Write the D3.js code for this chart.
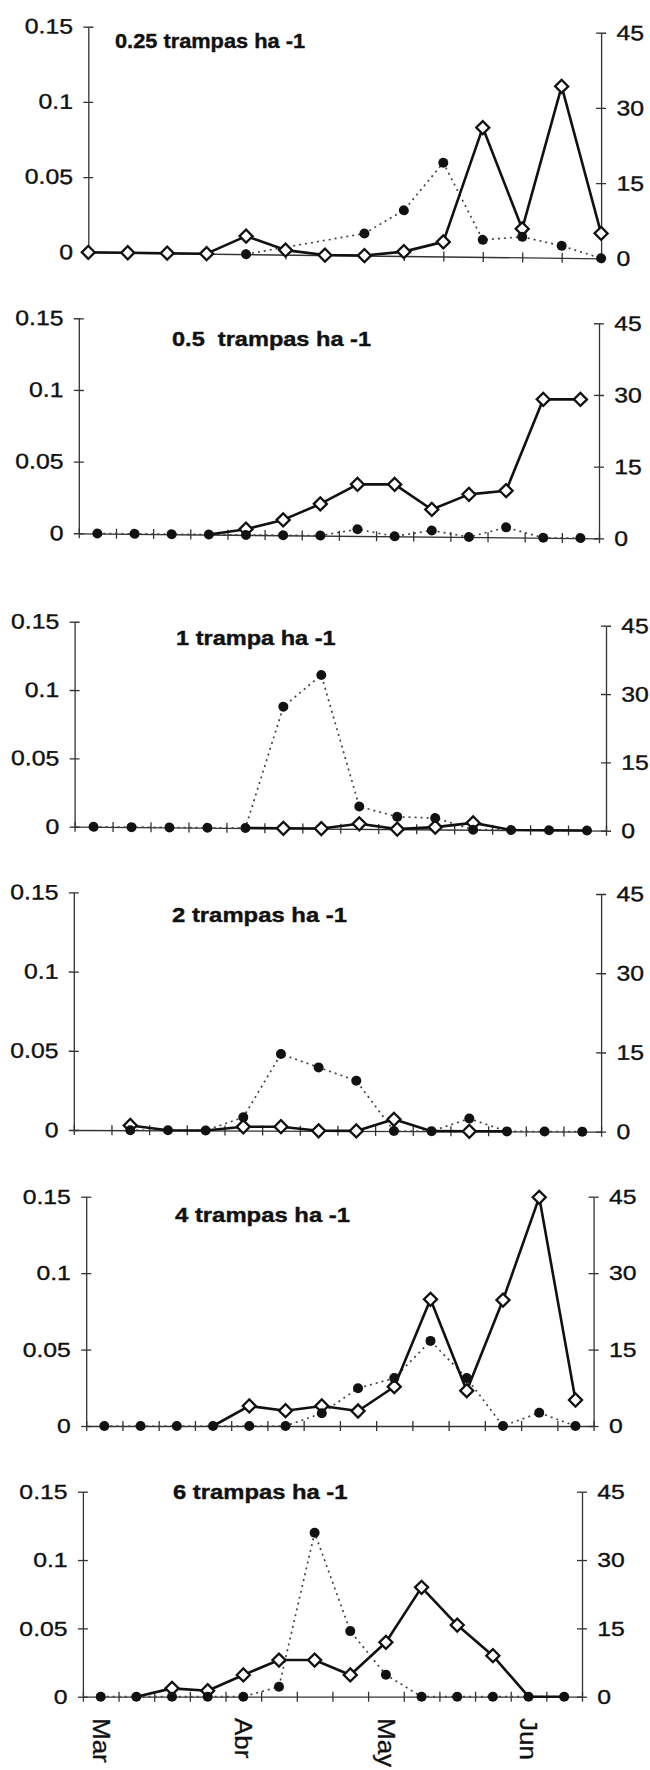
<!DOCTYPE html>
<html>
<head>
<meta charset="utf-8">
<script src="https://cdn.jsdelivr.net/npm/d3@7/dist/d3.min.js"></script>
<style>
  body { margin: 0; background: #fff; }
  svg { display: block; }
  text { font-family: "Liberation Sans", Arial, sans-serif; fill: #111; }
</style>
</head>
<body>
<div id="chart"></div>
<script>
// weekly samples, March to June
var weeks = ["Mar", "", "", "", "Abr", "", "", "", "May", "", "", "", "Jun", ""];

var titles = ["0.25 trampas ha -1", "0.5  trampas ha -1", "1 trampa ha -1",
              "2 trampas ha -1", "4 trampas ha -1", "6 trampas ha -1"];

var leftTicks = [0, 0.05, 0.1, 0.15];
var rightTicks = [0, 15, 30, 45];

// solid line, open diamonds (left axis)
var diam025 = [0, 0, 0, 0, 0.012, 0.003, 0, 0, 0.0029, 0.0097, 0.086, 0.019, 0.114, 0.0166];
var diam05  = [null, null, null, 0, 0.004, 0.0107, 0.0221, 0.036, 0.0363, 0.019, 0.0298, 0.0326, 0.0966, 0.0968];
var diam1   = [null, null, null, null, 0, 0, 0, 0.0037, 0, 0.0017, 0.005, 0, 0, 0];
var diam2   = [null, 0.003, 0, 0, 0.0024, 0.0025, 0, 0, 0.0074, 0, 0, 0, null, null];
var diam4   = [null, null, null, 0, 0.0131, 0.01, 0.0131, 0.0098, 0.0257, 0.0829, 0.0231, 0.0824, 0.1496, 0.017];
var diam6   = [null, 0, 0.0061, 0.0044, 0.0159, 0.0268, 0.0268, 0.0159, 0.0398, 0.08, 0.0524, 0.03, 0, 0];

// dotted line, filled dots (right axis)
var dots025 = [null, null, null, null, 0, null, null, 4.4, 9.1, 18.7, 3.4, 4.1, 2.4, 0];
var dots05  = [0, 0, 0, 0, 0, 0, 0, 1.4, 0, 1.3, 0, 2.1, 0, 0];
var dots1   = [0, 0, 0, 0, 0, 26.7, 33.7, 4.9, 2.7, 2.5, 0, 0, 0, 0];
var dots2   = [null, 0, 0, 0, 2.5, 14.5, 12.0, 9.5, 0, 0, 2.4, 0, 0, 0];
var dots4   = [0, 0, 0, 0, 0, 0, 2.5, 7.4, 9.4, 16.7, 9.4, 0, 2.6, 0];
var dots6   = [0, 0, 0, 0, 0, 2.2, 36.0, 14.4, 4.8, 0, 0, 0, 0, 0];

var diamonds = [diam025, diam05, diam1, diam2, diam4, diam6];
var dots = [dots025, dots05, dots1, dots2, dots4, dots6];

// where each panel sits (scan is slightly skewed, dy = right end drop)
var layout = [
  {x0: 88.3, x1: 601.1, yt: 26.7,   yb: 252.3,  dy: 6,   onTicks: true,  tx: 115,   ty: 48,     tl: 190},
  {x0: 78.8, x1: 599,   yt: 318.3,  yb: 533.3,  dy: 5,   onTicks: false, tx: 172,   ty: 345.7,  tl: 199},
  {x0: 74.6, x1: 606,   yt: 621.7,  yb: 826.7,  dy: 4,   onTicks: false, tx: 176,   ty: 645,    tl: 159.6},
  {x0: 73.8, x1: 601.1, yt: 892.3,  yb: 1130,   dy: 1.7, onTicks: false, tx: 172,   ty: 921.7,  tl: 175},
  {x0: 86.2, x1: 593.6, yt: 1196.7, yb: 1426,   dy: 0,   onTicks: false, tx: 175,   ty: 1221.7, tl: 175},
  {x0: 82.9, x1: 582,   yt: 1491.7, yb: 1696.7, dy: 0,   onTicks: false, tx: 173,   ty: 1499.3, tl: 174.5}
];

var svg = d3.select("#chart").append("svg")
  .attr("width", 650)
  .attr("height", 1770);

var idx = d3.range(weeks.length);
var diamondShape = d3.symbol().type(d3.symbolSquare).size(85);

layout.forEach(function(p, k) {
  var tilt = Math.atan(p.dy / (p.x1 - p.x0)) * 180 / Math.PI;
  var g = svg.append("g")
    .attr("transform", "translate(" + p.x0 + ",0) skewY(" + tilt + ") translate(" + (-p.x0) + ",0)");

  var yL = d3.scaleLinear().domain([0, 0.15]).range([p.yb, p.yt]);
  var yR = d3.scaleLinear().domain([0, 45]).range([p.yb, p.yt]);

  // category positions; first panel plots on the ticks, others between them
  var cx, tk;
  if (p.onTicks) {
    var xp = d3.scalePoint().domain(idx).range([p.x0, p.x1]);
    cx = function(i) { return xp(i); };
    tk = d3.scaleLinear().domain([0, weeks.length - 1]).range([p.x0, p.x1]);
  } else {
    var xb = d3.scaleBand().domain(idx).range([p.x0, p.x1]);
    cx = function(i) { return xb(i) + xb.bandwidth() / 2; };
    tk = d3.scaleLinear().domain([0, weeks.length]).range([p.x0, p.x1]);
  }

  // x axis
  var gx = g.append("g")
    .attr("transform", "translate(0," + p.yb + ")")
    .call(d3.axisBottom(tk).tickValues(d3.range(tk.domain()[1] + 1)).tickSize(0).tickFormat(""));
  gx.selectAll(".tick line").attr("y1", -5).attr("y2", 5);

  // left axis
  var gl = g.append("g")
    .attr("transform", "translate(" + p.x0 + ",0)")
    .call(d3.axisLeft(yL).tickValues(leftTicks).tickSize(0).tickPadding(13)
      .tickFormat(function(d) { return d3.format("~g")(d); }));
  gl.selectAll(".tick line").attr("x1", -5).attr("x2", 5);

  // right axis
  var gr = g.append("g")
    .attr("transform", "translate(" + p.x1 + ",0)")
    .call(d3.axisRight(yR).tickValues(rightTicks).tickSize(0).tickPadding(13));
  gr.selectAll(".tick line").attr("x1", -5).attr("x2", 5);

  g.selectAll(".domain, .tick line").attr("stroke", "#333").attr("stroke-width", 1.3);
  g.selectAll(".tick text")
    .attr("font-size", 21)
    .attr("font-family", "Liberation Sans, Arial, sans-serif")
    .attr("fill", "#111")
    .attr("stroke", "#111")
    .attr("stroke-width", 0.35)
    .attr("transform", "scale(1.18,1)");

  var dia = idx.filter(function(i) { return diamonds[k][i] != null; })
    .map(function(i) { return {i: i, v: diamonds[k][i]}; });
  var dot = idx.filter(function(i) { return dots[k][i] != null; })
    .map(function(i) { return {i: i, v: dots[k][i]}; });

  // dotted series
  g.append("path")
    .datum(dot)
    .attr("fill", "none")
    .attr("stroke", "#444")
    .attr("stroke-width", 1.7)
    .attr("stroke-dasharray", "2,4")
    .attr("d", d3.line().x(function(d) { return cx(d.i); }).y(function(d) { return yR(d.v); }));

  // solid series
  g.append("path")
    .datum(dia)
    .attr("fill", "none")
    .attr("stroke", "#111")
    .attr("stroke-width", 2.6)
    .attr("stroke-linejoin", "round")
    .attr("d", d3.line().x(function(d) { return cx(d.i); }).y(function(d) { return yL(d.v); }));

  // a diamond sitting exactly under a dot is hidden in the original
  var shown = dia.filter(function(d) {
    var o = dots[k][d.i];
    return o == null || Math.abs(yR(o) - yL(d.v)) > 2;
  });

  g.selectAll(".diamond")
    .data(shown)
    .enter()
    .append("path")
    .attr("class", "diamond")
    .attr("d", diamondShape)
    .attr("transform", function(d) { return "translate(" + cx(d.i) + "," + yL(d.v) + ") rotate(45)"; })
    .attr("fill", "#fff")
    .attr("stroke", "#111")
    .attr("stroke-width", 2.3);

  g.selectAll(".dot")
    .data(dot)
    .enter()
    .append("circle")
    .attr("class", "dot")
    .attr("cx", function(d) { return cx(d.i); })
    .attr("cy", function(d) { return yR(d.v); })
    .attr("r", 5)
    .attr("fill", "#111");

  // panel title
  svg.append("text")
    .attr("x", p.tx)
    .attr("y", p.ty)
    .attr("font-size", 21)
    .attr("font-weight", "bold")
    .attr("stroke", "#111")
    .attr("stroke-width", 0.4)
    .attr("textLength", p.tl)
    .attr("lengthAdjust", "spacingAndGlyphs")
    .style("white-space", "pre")
    .text(titles[k]);

  // month labels under the last panel
  if (k === layout.length - 1) {
    svg.selectAll(".month")
      .data(idx.filter(function(i) { return weeks[i] !== ""; }))
      .enter()
      .append("text")
      .attr("class", "month")
      .attr("transform", function(i) { return "translate(" + cx(i) + ",1718) rotate(90) scale(1,0.9)"; })
      .attr("dy", "0.35em")
      .attr("font-size", 26)
      .attr("stroke", "#111")
      .attr("stroke-width", 0.35)
      .text(function(i) { return weeks[i]; });
  }
});
</script>
</body>
</html>
